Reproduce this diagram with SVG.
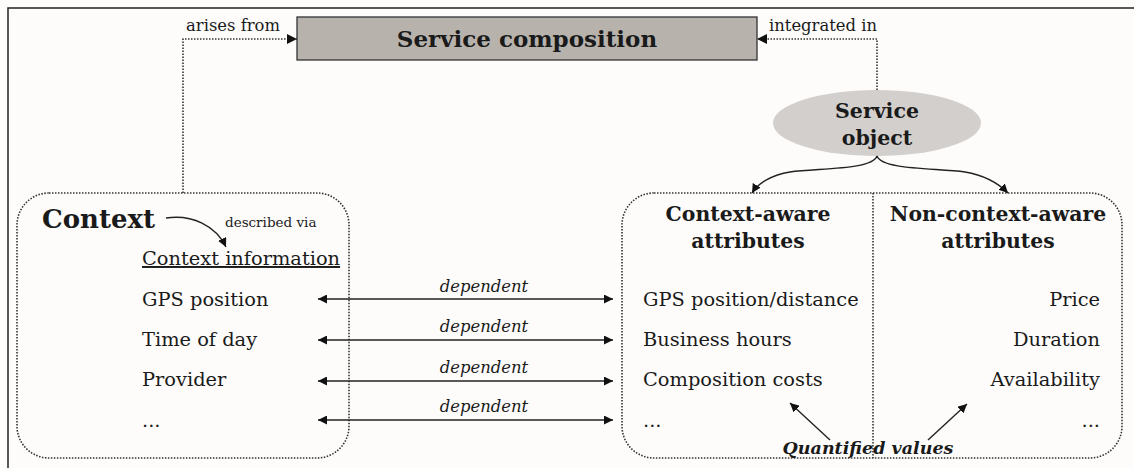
<svg xmlns="http://www.w3.org/2000/svg" width="1134" height="468" viewBox="0 0 1134 468">
<defs>
<marker id="ah" viewBox="0 0 10 10" refX="10" refY="5" markerWidth="10" markerHeight="10" markerUnits="userSpaceOnUse" orient="auto-start-reverse">
<path d="M0,0 L10,5 L0,10 z" fill="#111"/>
</marker>
<marker id="ahs" viewBox="0 0 10 10" refX="10" refY="5" markerWidth="9" markerHeight="9" markerUnits="userSpaceOnUse" orient="auto-start-reverse">
<path d="M0,0 L10,5 L0,10 z" fill="#111"/>
</marker>
</defs>
<style>
text{font-family:"DejaVu Serif","Liberation Serif",serif;fill:#1a1a1a}
.t{font-size:19.4px}
.b{font-weight:bold}
.h{font-size:20.4px;font-weight:bold;text-anchor:middle}
.dot{fill:none;stroke:#333;stroke-width:1.6;stroke-dasharray:1.5 1.5}
.ln{fill:none;stroke:#222;stroke-width:1.4}
.dep{font-size:16.4px;font-style:italic;text-anchor:middle}
</style>
<rect x="0" y="0" width="1134" height="468" fill="#fdfcfb"/>
<rect x="8" y="8" width="1140" height="480" fill="none" stroke="#222" stroke-width="1.5"/>

<g id="service-composition">
<rect x="297" y="17" width="460" height="43" fill="#b8b2ac" stroke="#333" stroke-width="1.3"/>
<text x="527" y="47" class="b" font-size="23" text-anchor="middle">Service composition</text>
</g>

<g id="service-object">
<ellipse cx="877" cy="123" rx="104" ry="33" fill="#d3cfcc"/>
<text x="877" y="118" class="b" font-size="20.5" text-anchor="middle">Service</text>
<text x="877" y="145" class="b" font-size="20.5" text-anchor="middle">object</text>
</g>

<g id="context">
<rect x="17" y="193" width="332" height="265" rx="32" ry="32" class="dot"/>
<text x="42" y="228" class="b" font-size="26">Context</text>
<text x="225" y="227" font-size="13.5">described via</text>
<text x="142" y="265" class="t" text-decoration="underline">Context information</text>
<text x="142" y="306" class="t">GPS position</text>
<text x="142" y="346" class="t">Time of day</text>
<text x="142" y="386" class="t">Provider</text>
<text x="142" y="427" class="t">...</text>
</g>

<g id="attributes">
<rect x="622" y="193" width="500" height="265" rx="32" ry="32" class="dot"/>
<line x1="873" y1="193" x2="873" y2="458" class="dot" stroke-width="1.2"/>
<text x="748" y="221" class="h">Context-aware</text>
<text x="748" y="248" class="h">attributes</text>
<text x="998" y="221" class="h">Non-context-aware</text>
<text x="998" y="248" class="h">attributes</text>
<text x="643" y="306" class="t">GPS position/distance</text>
<text x="643" y="346" class="t">Business hours</text>
<text x="643" y="386" class="t">Composition costs</text>
<text x="643" y="427" class="t">...</text>
<text x="1100" y="306" class="t" text-anchor="end">Price</text>
<text x="1100" y="346" class="t" text-anchor="end">Duration</text>
<text x="1100" y="386" class="t" text-anchor="end">Availability</text>
<text x="1100" y="427" class="t" text-anchor="end">...</text>
<text x="868" y="454" class="b" font-size="17.5" font-style="italic" text-anchor="middle">Quantified values</text>
</g>

<g id="connectors">
<path d="M183,193 V39 H297" class="dot" marker-end="url(#ah)"/>
<text x="233" y="31" font-size="16.4" text-anchor="middle">arises from</text>
<path d="M877,90 V39 H757" class="dot" marker-end="url(#ah)"/>
<text x="823" y="31" font-size="16.4" text-anchor="middle">integrated in</text>
<path d="M877,156 C872,170 820,168 790,172 C772,175 758,183 752,193" class="ln" marker-end="url(#ahs)"/>
<path d="M877,156 C882,170 935,168 965,172 C983,175 998,183 1008,193" class="ln" marker-end="url(#ahs)"/>
<path d="M166,218 C192,214 216,226 226,247" class="ln" marker-end="url(#ahs)"/>
<line x1="318" y1="299" x2="613" y2="299" class="ln" marker-start="url(#ahs)" marker-end="url(#ahs)"/>
<line x1="318" y1="340" x2="613" y2="340" class="ln" marker-start="url(#ahs)" marker-end="url(#ahs)"/>
<line x1="318" y1="381" x2="613" y2="381" class="ln" marker-start="url(#ahs)" marker-end="url(#ahs)"/>
<line x1="318" y1="420" x2="613" y2="420" class="ln" marker-start="url(#ahs)" marker-end="url(#ahs)"/>
<text x="484" y="292" class="dep">dependent</text>
<text x="484" y="332" class="dep">dependent</text>
<text x="484" y="373" class="dep">dependent</text>
<text x="484" y="412" class="dep">dependent</text>
<line x1="830" y1="440" x2="790" y2="403" class="ln" marker-end="url(#ahs)"/>
<line x1="928" y1="440" x2="967" y2="404" class="ln" marker-end="url(#ahs)"/>
</g>
</svg>
